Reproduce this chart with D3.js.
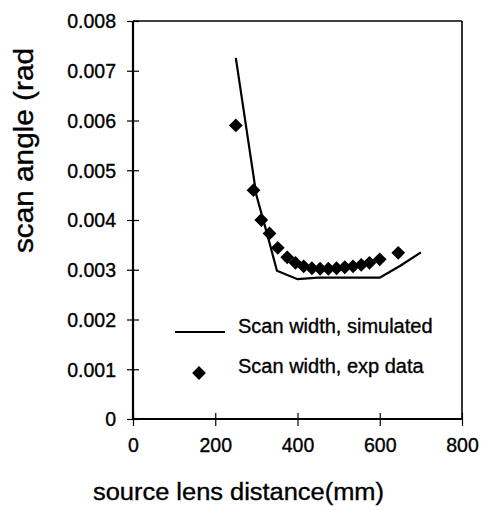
<!DOCTYPE html>
<html>
<head>
<meta charset="utf-8">
<script src="https://cdn.jsdelivr.net/npm/d3@7"></script>
<style>
  html, body { margin: 0; padding: 0; background: #fff; }
  svg { display: block; font-family: "Liberation Sans", Arial, sans-serif; }
</style>
</head>
<body>
<svg id="chart" width="482" height="510"></svg>
<script>
// ---- data ----
const xTicks = [0, 200, 400, 600, 800];
const yTicks = [0, 0.001, 0.002, 0.003, 0.004, 0.005, 0.006, 0.007, 0.008];
const yTickLabels = ["0", "0.001", "0.002", "0.003", "0.004", "0.005", "0.006", "0.007", "0.008"];

const simX = [250, 300, 330, 350, 400, 450, 500, 550, 600, 650, 700];
const simY = [0.00726, 0.0045, 0.0036, 0.00298, 0.00281, 0.00284, 0.00284, 0.00284, 0.00284, 0.00308, 0.00335];

const expX = [250, 293, 312, 332, 352, 375, 395, 415, 435, 455, 475, 495, 515, 535, 555, 575, 600, 645];
const expY = [0.0059, 0.0046, 0.0040, 0.00373, 0.00344, 0.00325, 0.00314, 0.00307, 0.00303, 0.00302, 0.00302, 0.00303, 0.00305, 0.00307, 0.00310, 0.00314, 0.00321, 0.00334];

const seriesNames = ["Scan width, simulated", "Scan width, exp data"];
const xTitle = "source lens distance(mm)";
const yTitle = "scan angle (rad";

// ---- layout ----
const svg = d3.select("#chart");
const x = d3.scaleLinear().domain([0, 800]).range([133, 462]);
const y = d3.scaleLinear().domain([0, 0.008]).range([419, 21]);
const font = "'Liberation Sans', Arial, sans-serif";
const heavy = sel => sel.attr("stroke", "#000").attr("stroke-width", 0.35).attr("fill", "#000");

// frame top & right
svg.append("line").attr("x1", x(0)).attr("x2", x(800)).attr("y1", y(0.008)).attr("y2", y(0.008))
  .attr("stroke", "#000").attr("stroke-width", 1.6);
svg.append("line").attr("x1", x(800)).attr("x2", x(800)).attr("y1", y(0.008)).attr("y2", y(0))
  .attr("stroke", "#000").attr("stroke-width", 1.6);

// y axis
const yAxis = svg.append("g").attr("transform", `translate(${x(0)},0)`)
  .call(d3.axisLeft(y).tickValues(yTicks).tickSize(6).tickFormat((d, i) => yTickLabels[i]));
yAxis.select(".domain").attr("stroke-width", 2.2).attr("d", `M0,${y(0.008)}V${y(0)}`);
yAxis.selectAll(".tick line").attr("x1", 6).attr("x2", -6).attr("stroke-width", 1.2);
yAxis.selectAll(".tick text").attr("x", -17).attr("dy", "0.35em")
  .attr("font-size", 19.5).attr("font-family", font).call(heavy);

// x axis
const xAxis = svg.append("g").attr("transform", `translate(0,${y(0)})`)
  .call(d3.axisBottom(x).tickValues(xTicks).tickSize(6).tickFormat(d3.format("d")));
xAxis.select(".domain").attr("stroke-width", 2.2).attr("d", `M${x(0)},0H${x(800)}`);
xAxis.selectAll(".tick line").attr("y1", -6).attr("y2", 7).attr("stroke-width", 1.2);
xAxis.selectAll(".tick text").attr("y", 33).attr("dy", 0)
  .attr("font-size", 19.5).attr("font-family", font).call(heavy);

// simulated line
const simData = simX.map((d, i) => [d, simY[i]]);
svg.append("path").datum(simData)
  .attr("fill", "none").attr("stroke", "#000").attr("stroke-width", 2.2)
  .attr("stroke-linejoin", "miter")
  .attr("d", d3.line().x(d => x(d[0])).y(d => y(d[1])));

// exp diamonds
const diamond = d3.symbol().type(d3.symbolSquare).size(95);
const expData = expX.map((d, i) => [d, expY[i]]);
svg.append("g").selectAll("path").data(expData).join("path")
  .attr("d", diamond)
  .attr("transform", d => `translate(${x(d[0])},${y(d[1])}) rotate(45)`)
  .attr("fill", "#000");

// legend
svg.append("line").attr("x1", 175).attr("x2", 225).attr("y1", 332).attr("y2", 332)
  .attr("stroke", "#000").attr("stroke-width", 2.2);
svg.append("text").attr("x", 238).attr("y", 333).attr("font-size", 20).attr("font-family", font)
  .call(heavy).text(seriesNames[0]);
svg.append("path").attr("d", diamond).attr("transform", "translate(199,373) rotate(45)").attr("fill", "#000");
svg.append("text").attr("x", 238).attr("y", 373).attr("font-size", 20).attr("font-family", font)
  .call(heavy).text(seriesNames[1]);

// axis titles
svg.append("text").attr("x", 93).attr("y", 500).attr("font-size", 23.5).attr("font-family", font)
  .attr("textLength", 291).attr("lengthAdjust", "spacingAndGlyphs").call(heavy).text(xTitle);
svg.append("text").attr("transform", "translate(33,253) rotate(-90)")
  .attr("font-size", 27).attr("font-family", font)
  .attr("textLength", 205).attr("lengthAdjust", "spacingAndGlyphs").call(heavy).text(yTitle);
</script>
</body>
</html>
